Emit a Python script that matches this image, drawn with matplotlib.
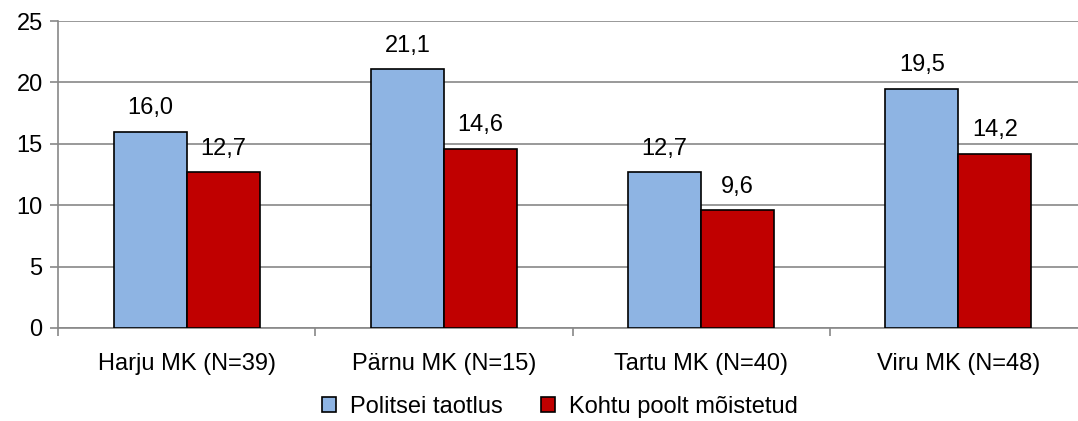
import matplotlib
matplotlib.use("Agg")
import matplotlib.pyplot as plt
import numpy as np

categories = ["Harju MK (N=39)", "Pärnu MK (N=15)", "Tartu MK (N=40)", "Viru MK (N=48)"]
series_names = ["Politsei taotlus", "Kohtu poolt mõistetud"]
politsei = [16.0, 21.1, 12.7, 19.5]
kohtu = [12.7, 14.6, 9.6, 14.2]
colors = ["#8EB4E3", "#C00000"]

plt.rcParams['font.family'] = ['Liberation Sans', 'DejaVu Sans']
FS = 17

fig = plt.figure(figsize=(10.78, 4.21), dpi=100)
ax = fig.add_axes([58/1078, 1 - 328/421, (1087 - 58)/1078, (328 - 21)/421])

x = np.arange(len(categories))
w = 0.284
b1 = ax.bar(x - w/2, politsei, w, color=colors[0], edgecolor="black", linewidth=1.2, label=series_names[0], zorder=3)
b2 = ax.bar(x + w/2, kohtu, w, color=colors[1], edgecolor="black", linewidth=1.2, label=series_names[1], zorder=3)

for bars, vals in ((b1, politsei), (b2, kohtu)):
    for r, v in zip(bars, vals):
        ax.text(r.get_x() + r.get_width()/2, v + 1.9, f"{v:.1f}".replace(".", ","),
                ha="center", va="center", fontsize=FS)

ax.set_xlim(-0.5, 3.5)
ax.set_ylim(0, 25)
ax.set_yticks([0, 5, 10, 15, 20, 25])
ax.yaxis.grid(True, color="#888888", linewidth=1.2, zorder=0)
ax.set_axisbelow(True)
ax.set_xticks(x)
ax.set_xticklabels(categories, fontsize=FS)
ax.set_xticks(np.arange(-0.5, 4.0, 1.0), minor=True)
ax.tick_params(axis="x", which="major", length=0, pad=18)
ax.tick_params(axis="x", which="minor", length=6, color="#888888", width=1.2)
ax.tick_params(axis="y", length=6, color="#888888", width=1.2, labelsize=FS, pad=5)
for s in ["top", "right"]:
    ax.spines[s].set_visible(False)
for s in ["left", "bottom"]:
    ax.spines[s].set_color("#888888")
    ax.spines[s].set_linewidth(1.2)

fig.legend(handles=[b1, b2], labels=series_names, loc="center", bbox_to_anchor=(560/1078, 1 - 407/421),
           ncol=2, frameon=False, fontsize=FS, handlelength=0.6, handleheight=0.6,
           columnspacing=1.6, handletextpad=0.6, borderpad=0)

fig.savefig("out.png", dpi=100)
